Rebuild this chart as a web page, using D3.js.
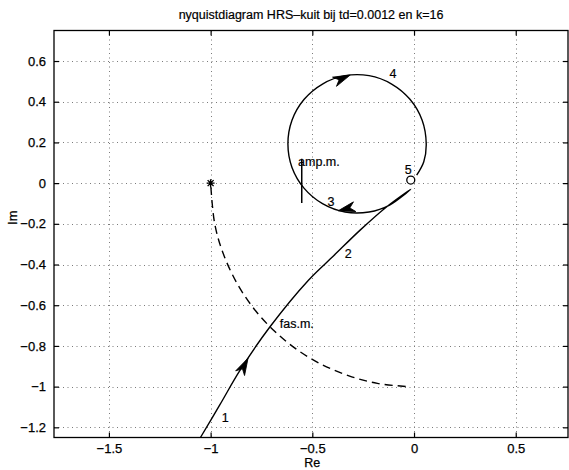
<!DOCTYPE html>
<html>
<head>
<meta charset="utf-8">
<script src="https://cdn.jsdelivr.net/npm/d3@7"></script>
<style>
  html, body { margin: 0; padding: 0; background: #fff; }
  svg { display: block; }
  text { font-family: "Liberation Sans", Arial, Helvetica, sans-serif; fill: #000; }
</style>
</head>
<body>
<svg id="chart" width="569" height="470"></svg>
<script>
// ---------- data ----------
const titleText = "nyquistdiagram HRS\u2013kuit bij td=0.0012 en k=16";
const xTicks = [-1.5, -1, -0.5, 0, 0.5];
const yTicks = [0.6, 0.4, 0.2, 0, -0.2, -0.4, -0.6, -0.8, -1, -1.2];
const xDomain = [-1.77, 0.757];
const yDomain = [-1.25, 0.75];

// solid Nyquist curve: [Re, Im], in travel order (1 -> 2 -> cusp -> loop 3,4 -> 5)
const nyquistRe = [-1.05, -0.955, -0.855, -0.708, -0.519, -0.395, -0.265, -0.134, -0.016,
  -0.12, -0.221, -0.339, -0.45, -0.540, -0.600, -0.620, -0.600, -0.540, -0.45, -0.339,
  -0.221, -0.11, -0.020, 0.040, 0.060, 0.048, 0.013];
const nyquistIm = [-1.25, -1.09, -0.919, -0.706, -0.477, -0.357, -0.231, -0.116, -0.030,
  -0.108, -0.142, -0.142, -0.101, -0.026, 0.077, 0.193, 0.309, 0.412, 0.487, 0.528,
  0.528, 0.487, 0.412, 0.309, 0.193, 0.105, 0.039];

// dashed unit-circle arc (phase margin circle), from -1 to about -j
const circleRe = [-1.0, -0.98, -0.94, -0.87, -0.78, -0.68, -0.57, -0.45, -0.32, -0.18, -0.03];
const circleIm = [0.0, -0.199, -0.341, -0.493, -0.626, -0.733, -0.822, -0.893, -0.947, -0.984, -1.0];

// arrowheads: tail -> tip in data coordinates
const arrowTail = [[-0.865, -0.953], [-0.280, -0.113], [-0.452, 0.472]];
const arrowTip  = [[-0.816, -0.860], [-0.373, -0.136], [-0.314, 0.531]];

// point labels along the curve
const pointLabels = ["1", "2", "3", "4", "5"];
const pointLabelRe = [-0.945, -0.34, -0.425, -0.12, -0.045];
const pointLabelIm = [-1.175, -0.37, -0.11, 0.515, 0.045];

// markers
const starPoint = [-1.0, 0.0];
const ringPoint = [-0.016, 0.015];

// margin annotations
const ampMarginRe = -0.552;
const ampMarginIm = [0.12, -0.098];
const ampLabel = "amp.m.";
const ampLabelPos = [-0.57, 0.083];
const fasLabel = "fas.m.";
const fasLabelPos = [-0.66, -0.71];

// ---------- drawing ----------
const svg = d3.select("#chart");
const mLeft = 54, mRight = 568, mTop = 30.5, mBottom = 437.5;
const x = d3.scaleLinear().domain(xDomain).range([mLeft, mRight]);
const y = d3.scaleLinear().domain(yDomain).range([mBottom, mTop]);

svg.append("defs").append("clipPath").attr("id", "clip")
  .append("rect").attr("x", mLeft).attr("y", mTop).attr("width", mRight - mLeft).attr("height", mBottom - mTop);

const fmt = d => String(d).replace("-", "\u2212");

// grid
const grid = svg.append("g").attr("stroke", "#444").attr("stroke-width", 1)
  .attr("stroke-dasharray", "1,3.5").attr("opacity", 0.7);
grid.selectAll("line.v").data(xTicks).join("line").attr("class", "v")
  .attr("x1", d => Math.round(x(d)) + 0.5).attr("x2", d => Math.round(x(d)) + 0.5)
  .attr("y1", mTop).attr("y2", mBottom);
grid.selectAll("line.h").data(yTicks).join("line").attr("class", "h")
  .attr("y1", d => Math.round(y(d)) + 0.5).attr("y2", d => Math.round(y(d)) + 0.5)
  .attr("x1", mLeft).attr("x2", mRight);

// axes (MATLAB style: ticks inside, on all four sides)
const tickLen = 5;
const axB = d3.axisBottom(x).tickValues(xTicks).tickFormat(fmt).tickSizeInner(-tickLen).tickSizeOuter(0).tickPadding(6);
const axL = d3.axisLeft(y).tickValues(yTicks).tickFormat(fmt).tickSizeInner(-tickLen).tickSizeOuter(0).tickPadding(8);
const axT = d3.axisTop(x).tickValues(xTicks).tickFormat("").tickSizeInner(-tickLen).tickSizeOuter(0);
const axR = d3.axisRight(y).tickValues(yTicks).tickFormat("").tickSizeInner(-tickLen).tickSizeOuter(0);

function style(g) {
  g.selectAll("path.domain").remove();
  g.selectAll("line").attr("stroke", "#000").attr("stroke-width", 1.2);
  g.selectAll("text").attr("font-size", 13).attr("fill", "#000")
    .attr("stroke", "#000").attr("stroke-width", 0.25)
    .attr("font-family", "Liberation Sans, Arial, sans-serif");
}
svg.append("g").attr("transform", `translate(0,${mBottom})`).call(axB).call(style);
svg.append("g").attr("transform", `translate(${mLeft},0)`).call(axL).call(style);
svg.append("g").attr("transform", `translate(0,${mTop})`).call(axT).call(style);
svg.append("g").attr("transform", `translate(${mRight},0)`).call(axR).call(style);

// frame
svg.append("rect").attr("x", mLeft).attr("y", mTop).attr("width", mRight - mLeft).attr("height", mBottom - mTop)
  .attr("fill", "none").attr("stroke", "#000").attr("stroke-width", 1.3);

const plot = svg.append("g").attr("clip-path", "url(#clip)");

// dashed unit circle arc
const lineGen = d3.line().x(d => x(d[0])).y(d => y(d[1])).curve(d3.curveCatmullRom.alpha(0.5));
plot.append("path")
  .datum(circleRe.map((r, i) => [r, circleIm[i]]))
  .attr("d", lineGen).attr("fill", "none").attr("stroke", "#000")
  .attr("stroke-width", 1.4).attr("stroke-dasharray", "8,5").attr("stroke-dashoffset", -4);

// solid nyquist curve
plot.append("path")
  .datum(nyquistRe.map((r, i) => [r, nyquistIm[i]]))
  .attr("d", lineGen).attr("fill", "none").attr("stroke", "#000").attr("stroke-width", 1.4);

// amplitude margin tick
plot.append("line")
  .attr("x1", x(ampMarginRe)).attr("x2", x(ampMarginRe))
  .attr("y1", y(ampMarginIm[0])).attr("y2", y(ampMarginIm[1]))
  .attr("stroke", "#000").attr("stroke-width", 1.5);

// arrowheads
arrowTip.forEach((tip, i) => {
  const tx = x(tip[0]), ty = y(tip[1]);
  const bx = x(arrowTail[i][0]), by = y(arrowTail[i][1]);
  const ang = Math.atan2(ty - by, tx - bx);
  const g = plot.append("g").attr("transform", `translate(${tx},${ty}) rotate(${ang * 180 / Math.PI})`);
  g.append("path").attr("d", "M0,0 L-17,-5 L-12,0 L-17,5 Z").attr("fill", "#000").attr("stroke", "#000").attr("stroke-width", 0.8);
});

// star marker at -1
const sx = x(starPoint[0]), sy = y(starPoint[1]);
plot.append("path")
  .attr("d", `M${sx-4},${sy} L${sx+4},${sy} M${sx},${sy-4} L${sx},${sy+4} M${sx-3},${sy-3} L${sx+3},${sy+3} M${sx-3},${sy+3} L${sx+3},${sy-3}`)
  .attr("stroke", "#000").attr("stroke-width", 1.4);

// ring marker
plot.append("circle").attr("cx", x(ringPoint[0])).attr("cy", y(ringPoint[1])).attr("r", 4)
  .attr("fill", "#fff").attr("stroke", "#000").attr("stroke-width", 1.3);

// labels
const lbl = svg.append("g").attr("font-size", 12.5).attr("stroke", "#000").attr("stroke-width", 0.2);
pointLabels.forEach((t, i) => {
  lbl.append("text").attr("x", x(pointLabelRe[i])).attr("y", y(pointLabelIm[i])).text(t);
});
lbl.append("text").attr("x", x(ampLabelPos[0])).attr("y", y(ampLabelPos[1])).text(ampLabel);
lbl.append("text").attr("x", x(fasLabelPos[0])).attr("y", y(fasLabelPos[1])).text(fasLabel);

// title and axis labels
svg.append("text").attr("x", (mLeft + mRight) / 2).attr("y", 19).attr("text-anchor", "middle")
  .attr("font-size", 12.5).attr("stroke", "#000").attr("stroke-width", 0.2).text(titleText);
svg.append("text").attr("x", x(-0.5)).attr("y", 466.5).attr("text-anchor", "middle")
  .attr("font-size", 12.5).attr("stroke", "#000").attr("stroke-width", 0.25).text("Re");
svg.append("text").attr("transform", `translate(17,${y(-0.17)}) rotate(-90)`).attr("text-anchor", "middle")
  .attr("font-size", 13).attr("stroke", "#000").attr("stroke-width", 0.25).text("Im");
</script>
</body>
</html>
